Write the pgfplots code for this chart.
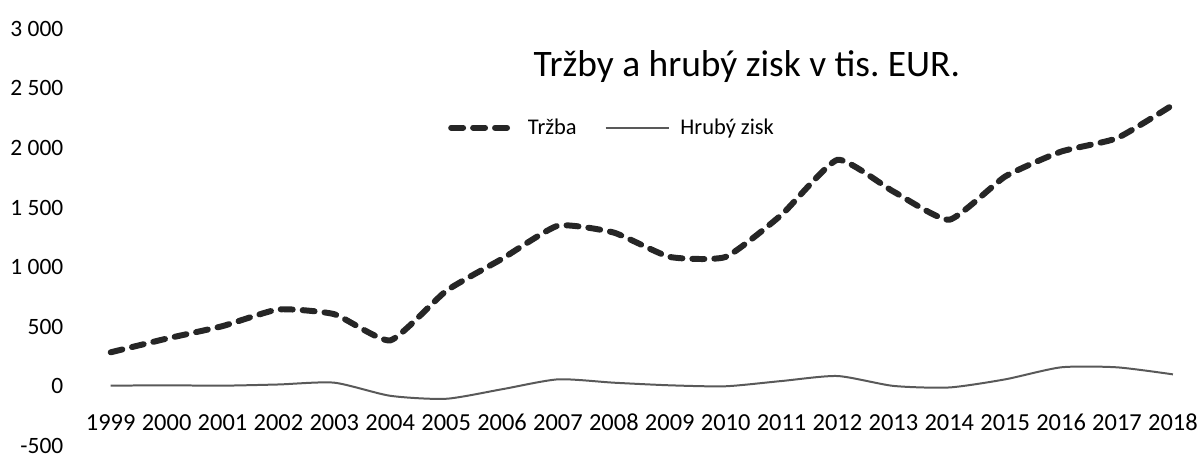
\documentclass[border=0pt]{standalone}
\usepackage{pgfplots}
\pgfplotsset{compat=1.18}
\usepackage{fontspec}
\setmainfont{Carlito}
\frenchspacing
\begin{document}
\begin{tikzpicture}
\begin{axis}[
  name=ax,
  scale only axis,
  width=1065pt, height=418pt,
  xmin=0, xmax=19, ymin=-500, ymax=3000,
  axis line style={draw=none},
  tick style={draw=none},
  xtick={0,...,19},
  xticklabels={1999,2000,2001,2002,2003,2004,2005,2006,2007,2008,2009,2010,2011,2012,2013,2014,2015,2016,2017,2018},
  ytick={-500,0,500,1000,1500,2000,2500,3000},
  yticklabels={-500,0,500,1 000,1 500,2 000,2 500,3 000},
  xticklabel style={font=\fontsize{24.5}{26}\selectfont, anchor=base, yshift=15pt},
  yticklabel style={font=\fontsize{23.5}{25}\selectfont, anchor=east, xshift=-44pt},
  title={Tržby a hrubý zisk v tis. EUR.},
  title style={font=\fontsize{37.5}{40}\selectfont, at={(rel axis cs:0.599,0.895)}, anchor=center},
  legend columns=2,
  legend style={draw=none, fill=none, at={(rel axis cs:0.472,0.763)}, anchor=center,
    font=\fontsize{22.5}{24}\selectfont,
    /tikz/every odd column/.append style={column sep=8pt},
    /tikz/every even column/.append style={column sep=26pt}},
  legend image code/.code={\draw[#1] (0pt,0pt) -- (64pt,0pt);},
  clip=false,
]
\addplot[black!85, line width=6pt, line cap=round, dash pattern=on 12pt off 10pt, smooth, tension=0.3]
coordinates {
(0,285) (1,400) (2,505) (3,645) (4,605) (5,385) (6,800) (7,1070) (8,1348) (9,1290)
(10,1086) (11,1086) (12,1440) (13,1901) (14,1635) (15,1398) (16,1761) (17,1970) (18,2083) (19,2362)
};
\addlegendentry{Tržba}
\addplot[black!65, line width=2pt, smooth, tension=0.4]
coordinates {
(0,5) (1,8) (2,5) (3,15) (4,30) (5,-80) (6,-105) (7,-25) (8,58) (9,30)
(10,8) (11,0) (12,44) (13,86) (14,3) (15,-10) (16,58) (17,159) (18,159) (19,100)
};
\addlegendentry{Hrubý zisk}
\end{axis}
\path ([xshift=-111pt,yshift=29pt]ax.north west) rectangle ([xshift=25pt,yshift=-7pt]ax.south east);
\end{tikzpicture}
\end{document}
